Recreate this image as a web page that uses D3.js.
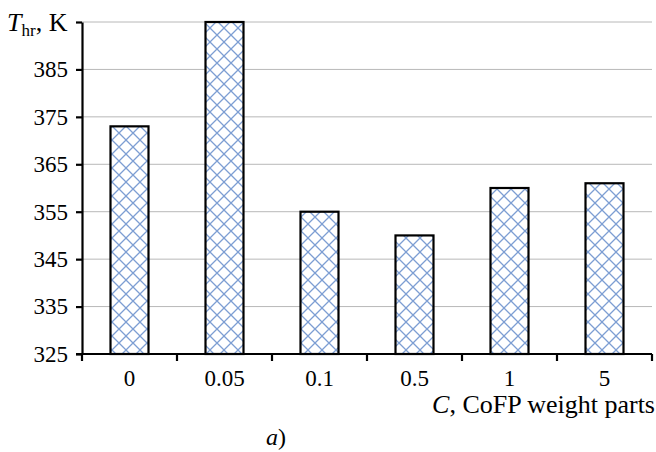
<!DOCTYPE html>
<html>
<head>
<meta charset="utf-8">
<script src="https://cdn.jsdelivr.net/npm/d3@7"></script>
<style>
  body { margin: 0; background: #fff; }
  text { font-family: "Liberation Serif", "Times New Roman", serif; fill: #000; }
</style>
</head>
<body>
<svg id="chart" width="656" height="452"></svg>
<script>
// data
const categories = ["0", "0.05", "0.1", "0.5", "1", "5"];
const temps = [373, 395, 355, 350, 360, 361];
const yTicks = [325, 335, 345, 355, 365, 375, 385];

const svg = d3.select("#chart");
const plotLeft = 82, plotRight = 652, plotTop = 22, plotBottom = 354;
const fs = "23px";

const x = d3.scaleBand().domain(categories).range([plotLeft, plotRight]).paddingInner(0.6).paddingOuter(0.3);
const y = d3.scaleLinear().domain([325, 395]).range([plotBottom, plotTop]);

// crosshatch fill
const pat = svg.append("defs").append("pattern")
    .attr("id", "hatch")
    .attr("patternUnits", "userSpaceOnUse")
    .attr("width", 14).attr("height", 14);
pat.append("rect").attr("width", 14).attr("height", 14).attr("fill", "#fff");
pat.append("path")
    .attr("d", "M0,0 L14,14 M14,0 L0,14")
    .attr("stroke", "#7d9ed3")
    .attr("stroke-width", 1.3);

// gridlines
svg.append("g").selectAll("line")
    .data(yTicks.concat([395]).filter(d => d > 325))
    .join("line")
    .attr("x1", plotLeft).attr("x2", plotRight)
    .attr("y1", d => y(d)).attr("y2", d => y(d))
    .attr("stroke", "#b8b8b8").attr("stroke-width", 1);

// bars
svg.append("g").selectAll("rect")
    .data(temps)
    .join("rect")
    .attr("x", (d, i) => x(categories[i]))
    .attr("y", d => y(d))
    .attr("width", x.bandwidth())
    .attr("height", d => plotBottom - y(d))
    .attr("fill", "url(#hatch)")
    .attr("stroke", "#000")
    .attr("stroke-width", 2.2);

// y axis
const yAxis = svg.append("g")
    .attr("transform", `translate(${plotLeft},0)`)
    .call(d3.axisLeft(y).tickValues(yTicks.concat([395])).tickSize(6).tickSizeOuter(0).tickPadding(8).tickFormat(d => d === 395 ? "" : d));
yAxis.select(".domain").attr("stroke", "#000").attr("stroke-width", 2.2);
yAxis.selectAll(".tick line").attr("stroke", "#000").attr("stroke-width", 2.2);
yAxis.selectAll(".tick text").style("font-size", fs).attr("font-family", "Liberation Serif");

// x axis with ticks at band boundaries
const bounds = d3.range(categories.length + 1).map(i => plotLeft + i * (plotRight - plotLeft) / categories.length);
const xg = svg.append("g");
xg.append("line")
    .attr("x1", plotLeft - 6).attr("x2", plotRight)
    .attr("y1", plotBottom).attr("y2", plotBottom)
    .attr("stroke", "#000").attr("stroke-width", 2.2);
xg.selectAll(".xt").data(bounds).join("line")
    .attr("class", "xt")
    .attr("x1", d => d).attr("x2", d => d)
    .attr("y1", plotBottom).attr("y2", plotBottom + 7)
    .attr("stroke", "#000").attr("stroke-width", 2.2);
xg.selectAll("text").data(categories).join("text")
    .attr("x", d => x(d) + x.bandwidth() / 2)
    .attr("y", 386)
    .attr("text-anchor", "middle")
    .style("font-size", fs)
    .text(d => d);

// axis titles
const yt = svg.append("text").attr("x", 7).attr("y", 31).style("font-size", "26px");
yt.append("tspan").style("font-style", "italic").text("T");
yt.append("tspan").attr("dy", 5).style("font-size", "17px").text("hr");
yt.append("tspan").attr("dy", -5).text(", K");

const xt = svg.append("text").attr("x", 655).attr("y", 413).attr("text-anchor", "end").style("font-size", "26px");
xt.append("tspan").style("font-style", "italic").text("C");
xt.append("tspan").text(", CoFP weight parts");

const cap = svg.append("text").attr("x", 276).attr("y", 445).attr("text-anchor", "middle").style("font-size", "24px");
cap.append("tspan").style("font-style", "italic").text("a");
cap.append("tspan").text(")");
</script>
</body>
</html>
